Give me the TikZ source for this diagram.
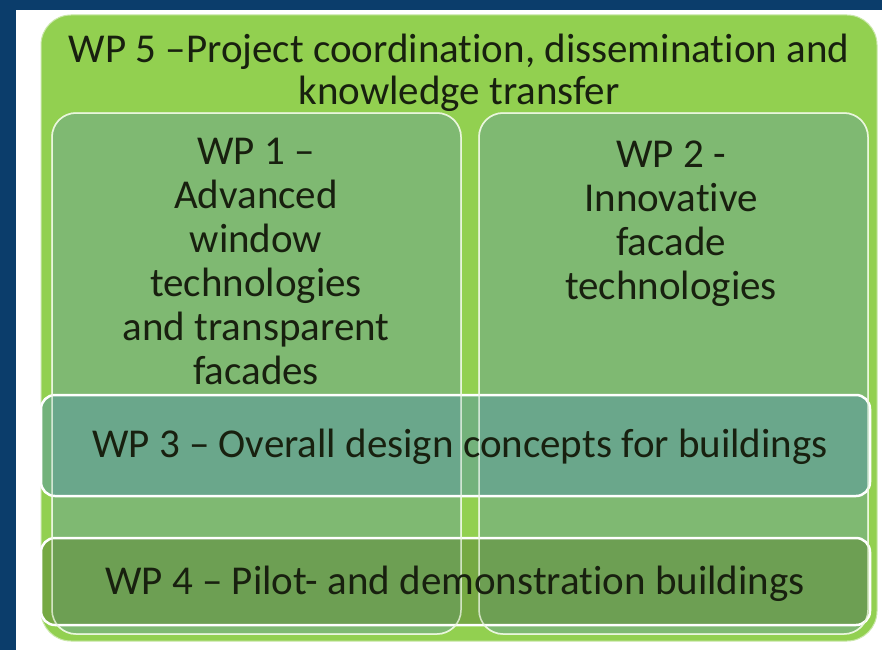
\documentclass[tikz,border=0pt]{standalone}
\usepackage{fontspec}
\setmainfont[Ligatures=NoCommon]{Carlito}
\definecolor{bgblue}{HTML}{0B3D6B}
\definecolor{wpgreen}{HTML}{92D050}
\definecolor{boxgreen}{HTML}{7FB972}
\definecolor{wpteal}{HTML}{5A9AA0}
\definecolor{wpolive}{HTML}{5F8A3A}
\definecolor{wptext}{HTML}{18200F}
\tikzset{
  colbox/.style={draw=white!80!wpgreen, line width=1.5pt, rounded corners=24pt},
  rowbox/.style={draw=white, line width=2.5pt, rounded corners=14pt, fill opacity=0.55},
  wplabel/.style={text=wptext, align=center, inner sep=0pt, font=\fontsize{41}{44}\selectfont},
}
\begin{document}
\begin{tikzpicture}[x=1pt,y=-1pt]
\useasboundingbox (0,0) rectangle (882,650);
\fill[bgblue] (0,0) rectangle (882,650);
\fill[white] (16,10) rectangle (882,650);
% WP 5 frame
\draw[fill=wpgreen, draw=wpgreen!50!white, line width=1pt, rounded corners=30pt] (41,15) rectangle (877,641);
% the two columns
\draw[colbox, fill=boxgreen] (52,113) rectangle (461,634);
\draw[colbox, fill=boxgreen] (479,113) rectangle (868,634);
% the two rows across
\draw[rowbox, fill=wpteal] (41,395) rectangle (870,496);
\draw[rowbox, fill=wpolive] (41,538) rectangle (870,625);
% column edges show through the rows
\draw[colbox, draw opacity=0.7] (52,113) rectangle (461,634);
\draw[colbox, draw opacity=0.7] (479,113) rectangle (868,634);
\node[wplabel, font=\fontsize{41}{42}\selectfont] (wp5) at (459,73) {WP 5 --Project coordination, dissemination and\\knowledge transfer};
\node[wplabel] (wp1) at (256,261) {WP 1 --\\Advanced\\window\\technologies\\and transparent\\facades};
\node[wplabel] (wp2) at (671,224) {WP 2 -\\Innovative\\facade\\technologies};
\node[wplabel] (wp3) at (460,447) {WP 3 -- Overall design concepts for buildings};
\node[wplabel] (wp4) at (455,584) {WP 4 -- Pilot- and demonstration buildings};
\end{tikzpicture}
\end{document}
